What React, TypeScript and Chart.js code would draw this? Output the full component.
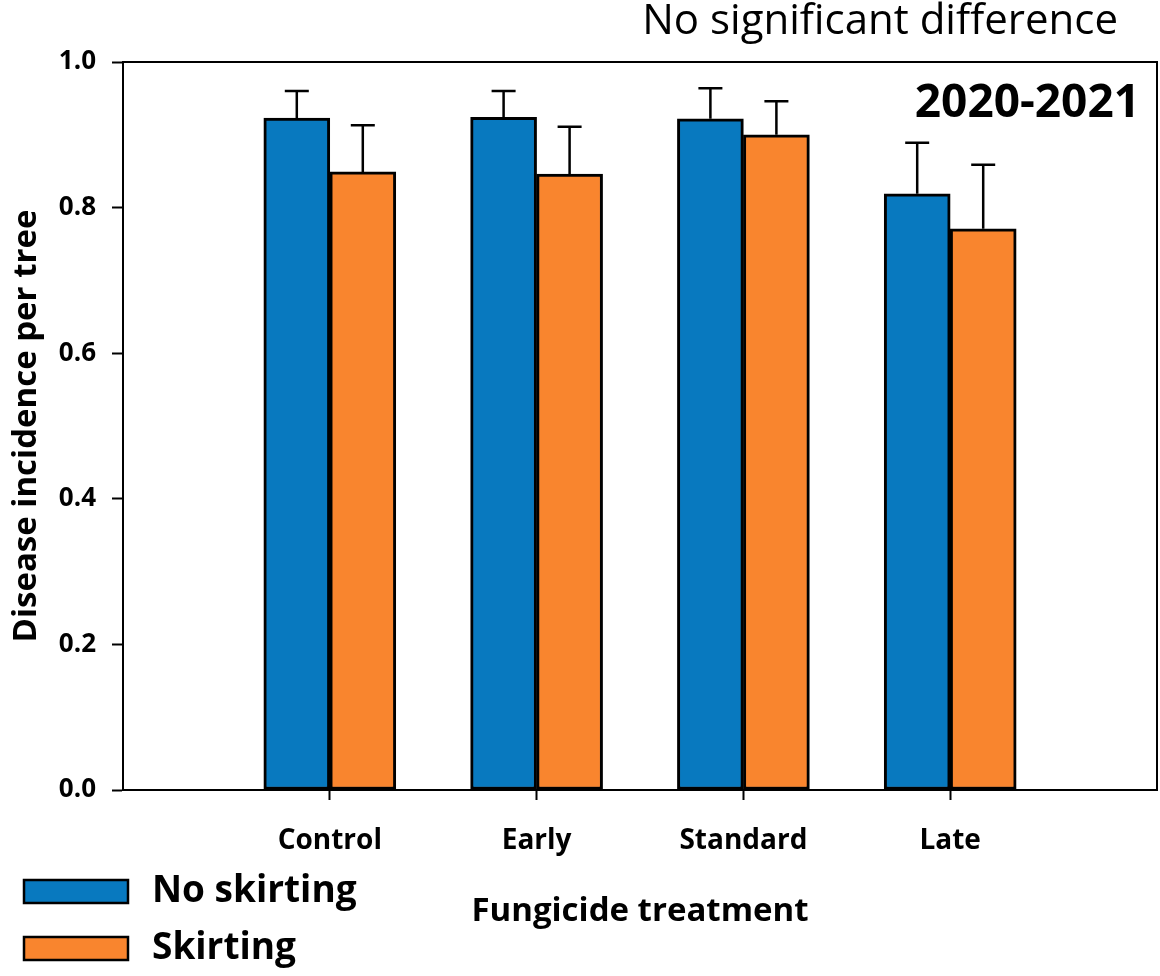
import React, { useEffect, useRef } from 'react';
import { Chart, registerables } from 'chart.js';

Chart.register(...registerables);

const categories = ['Control', 'Early', 'Standard', 'Late'];
const seriesNames = ['No skirting', 'Skirting'];
const noSkirting = [0.923, 0.924, 0.922, 0.819];
const noSkirtingErr = [0.037, 0.036, 0.042, 0.07];
const skirting = [0.849, 0.846, 0.9, 0.771];
const skirtingErr = [0.064, 0.065, 0.046, 0.088];
const yMin = 0;
const yMax = 1.0;
const yStep = 0.2;
const titleText = 'No significant difference';
const periodText = '2020-2021';
const xTitle = 'Fungicide treatment';
const yTitle = 'Disease incidence per tree';

const BLUE = '#0879BF';
const ORANGE = '#F9852E';
const FONT = '"Open Sans", "DejaVu Sans", sans-serif';

const errorArrays = [noSkirtingErr, skirtingErr];

const extrasPlugin = {
  id: 'extras',
  afterDatasetsDraw(chart: any) {
    const ctx = chart.ctx;
    const yScale = chart.scales.y;
    ctx.save();
    ctx.strokeStyle = '#000';
    ctx.lineWidth = 2.5;
    chart.data.datasets.forEach((ds: any, di: number) => {
      const meta = chart.getDatasetMeta(di);
      meta.data.forEach((el: any, i: number) => {
        const v = ds.data[i];
        if (v === null || v === undefined) return;
        const err = errorArrays[di][i - 1];
        const top = yScale.getPixelForValue(v + err);
        const x = el.x;
        ctx.beginPath();
        ctx.moveTo(x, el.y);
        ctx.lineTo(x, top);
        ctx.moveTo(x - 12, top);
        ctx.lineTo(x + 12, top);
        ctx.stroke();
      });
    });
    ctx.restore();
  },
  afterDraw(chart: any) {
    const ctx = chart.ctx;
    const a = chart.chartArea;
    ctx.save();
    ctx.strokeStyle = '#000';
    ctx.lineWidth = 2;
    ctx.beginPath();
    ctx.moveTo(a.left, a.top);
    ctx.lineTo(a.right, a.top);
    ctx.lineTo(a.right, a.bottom);
    ctx.stroke();

    ctx.fillStyle = '#000';
    ctx.font = `42px ${FONT}`;
    ctx.textAlign = 'right';
    ctx.textBaseline = 'middle';
    ctx.fillText(titleText, 1118, 22);

    ctx.font = `bold 46px ${FONT}`;
    ctx.fillText(periodText, 1140, 104);

    chart.data.datasets.forEach((ds: any, di: number) => {
      const y = 880 + di * 57;
      ctx.fillStyle = ds.backgroundColor;
      ctx.fillRect(24, y, 104, 23);
      ctx.strokeStyle = '#000';
      ctx.lineWidth = 2.5;
      ctx.strokeRect(24, y, 104, 23);
      ctx.fillStyle = '#000';
      ctx.font = `bold 37px ${FONT}`;
      ctx.textAlign = 'left';
      ctx.textBaseline = 'middle';
      ctx.fillText(ds.label, 152, y + 11);
    });
    ctx.restore();
  },
};

export default function App() {
  const canvasRef = useRef<HTMLCanvasElement | null>(null);

  useEffect(() => {
    document.body.style.margin = '0';
    let chart: Chart | null = null;
    let cancelled = false;
    const make = () => {
      if (cancelled || !canvasRef.current) return;
      const labels = ['', ...categories, ''];
      chart = new Chart(canvasRef.current, {
        type: 'bar',
        data: {
          labels,
          datasets: [
            {
              label: seriesNames[0],
              data: [null, ...noSkirting, null],
              backgroundColor: BLUE,
              borderColor: '#000',
              borderWidth: 3,
              borderSkipped: false,
              barThickness: 66,
            },
            {
              label: seriesNames[1],
              data: [null, ...skirting, null],
              backgroundColor: ORANGE,
              borderColor: '#000',
              borderWidth: 3,
              borderSkipped: false,
              barThickness: 66,
            },
          ],
        } as any,
        options: {
          animation: false,
          responsive: false,
          devicePixelRatio: 1,
          layout: { padding: { left: 0, top: 62, right: 3, bottom: 0 } },
          plugins: {
            legend: { display: false },
            tooltip: { enabled: false },
            title: { display: false },
          },
          scales: {
            x: {
              type: 'category',
              offset: false,
              afterFit: (s: any) => {
                s.height = 186;
                s.paddingLeft = 0;
                s.paddingRight = 0;
              },
              grid: {
                offset: false,
                drawOnChartArea: false,
                drawTicks: true,
                tickLength: 10,
                tickWidth: 2,
                tickColor: (c: any) =>
                  c.index === 0 || c.index === labels.length - 1 ? 'rgba(0,0,0,0)' : '#000',
              },
              border: { display: true, color: '#000', width: 2 },
              ticks: {
                color: '#000',
                font: { family: FONT, size: 28, weight: 'bold' },
                padding: 24,
                maxRotation: 0,
                autoSkip: false,
              },
              title: {
                display: true,
                text: xTitle,
                color: '#000',
                font: { family: FONT, size: 33, weight: 'bold' },
                padding: { top: 0, bottom: 45 },
              },
            },
            y: {
              min: yMin,
              max: yMax,
              afterFit: (s: any) => {
                s.width = 123;
                s.paddingTop = 0;
                s.paddingBottom = 0;
              },
              grid: {
                drawOnChartArea: false,
                drawTicks: true,
                tickLength: 11,
                tickWidth: 2,
                tickColor: '#000',
              },
              border: { display: true, color: '#000', width: 2 },
              ticks: {
                stepSize: yStep,
                color: '#000',
                padding: 16,
                font: { family: FONT, size: 26, weight: 'bold' },
                callback: (v: any) => Number(v).toFixed(1),
              },
              title: {
                display: true,
                text: yTitle,
                color: '#000',
                font: { family: FONT, size: 33, weight: 'bold' },
                padding: { top: 7, bottom: 0 },
              },
            },
          },
        } as any,
        plugins: [extrasPlugin],
      });
    };
    const fonts = (document as any).fonts;
    if (fonts && fonts.load) {
      Promise.all([
        fonts.load(`bold 30px "Open Sans"`),
        fonts.load(`30px "Open Sans"`),
      ]).then(make, make);
    } else {
      make();
    }
    return () => {
      cancelled = true;
      if (chart) chart.destroy();
    };
  }, []);

  return (
    <div style={{ width: 1160, height: 976 }}>
      <canvas ref={canvasRef} width={1160} height={976} style={{ display: 'block' }} />
    </div>
  );
}
